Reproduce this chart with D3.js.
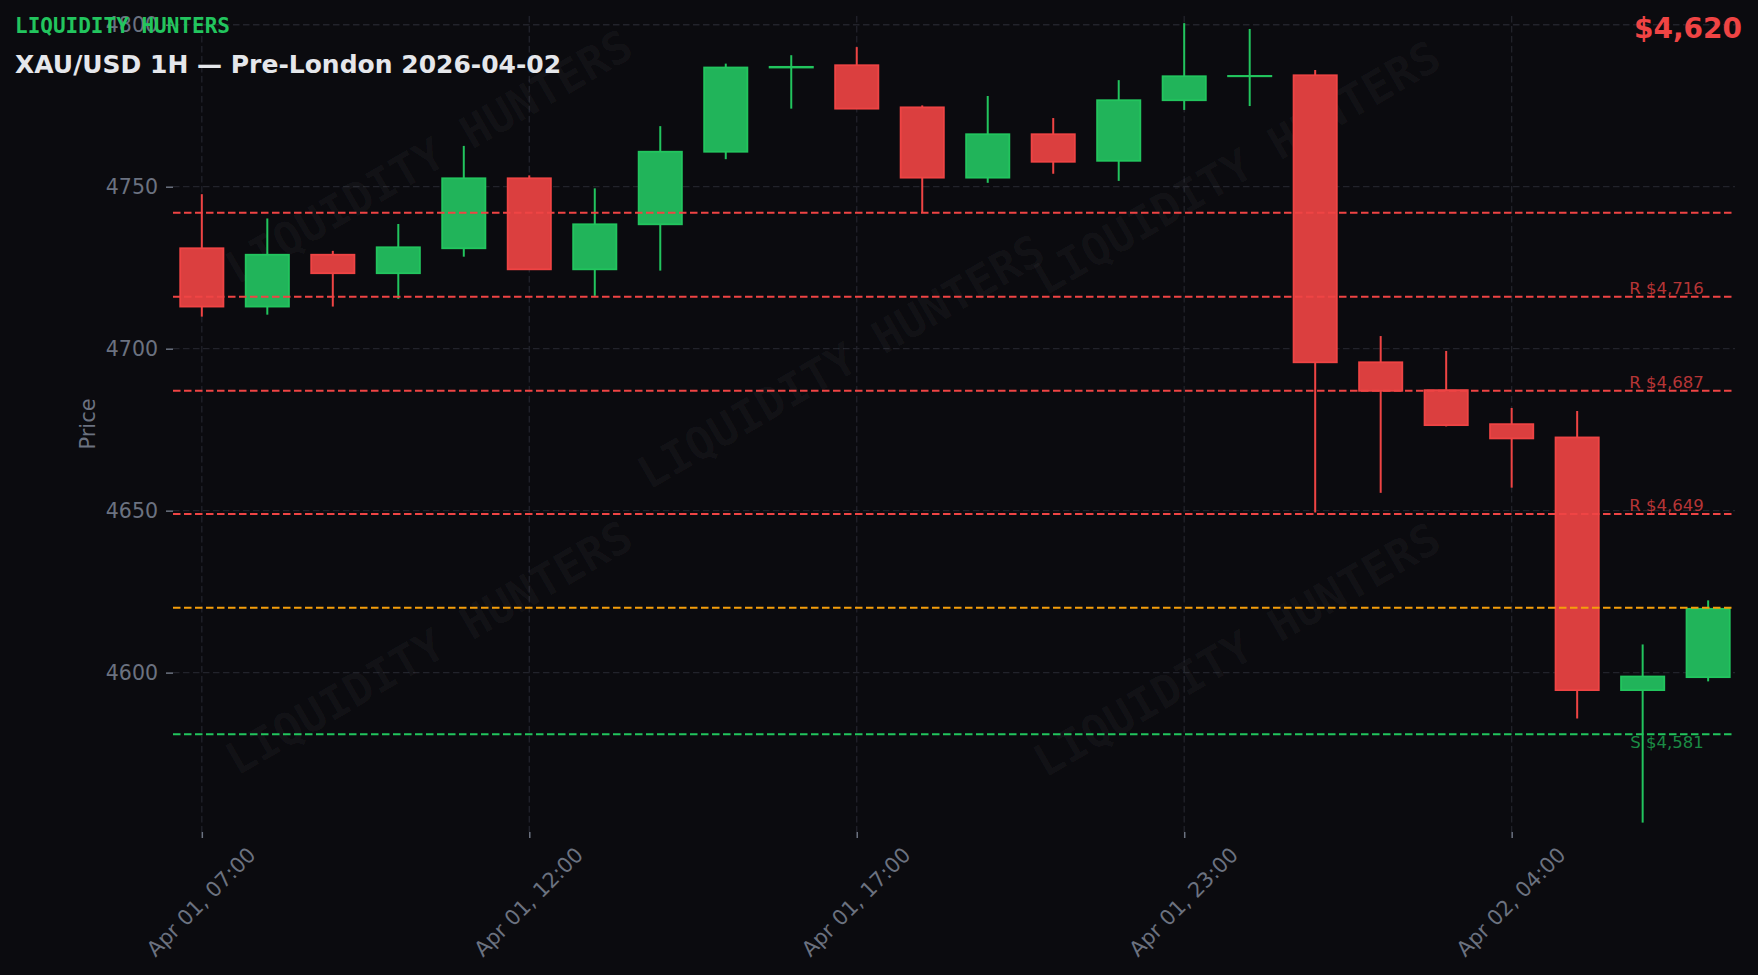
<!DOCTYPE html>
<html>
<head>
<meta charset="utf-8">
<script src="https://cdn.jsdelivr.net/npm/d3@7"></script>
<style>
  html, body { margin: 0; padding: 0; background: #0b0b0f; }
  svg { display: block; }
</style>
</head>
<body>
<svg id="chart" width="1758" height="975"></svg>
<script>
// ---------------- DATA ----------------
const times = [
  "2026-04-01 07:00","2026-04-01 08:00","2026-04-01 09:00","2026-04-01 10:00",
  "2026-04-01 11:00","2026-04-01 12:00","2026-04-01 13:00","2026-04-01 14:00",
  "2026-04-01 15:00","2026-04-01 16:00","2026-04-01 17:00","2026-04-01 18:00",
  "2026-04-01 19:00","2026-04-01 20:00","2026-04-01 22:00","2026-04-01 23:00",
  "2026-04-02 00:00","2026-04-02 01:00","2026-04-02 02:00","2026-04-02 03:00",
  "2026-04-02 04:00","2026-04-02 05:00","2026-04-02 06:00","2026-04-02 07:00"
];
const open  = [4731.0, 4713.0, 4729.0, 4723.3, 4731.0, 4752.6, 4724.5, 4738.4, 4760.8, 4786.8, 4787.5, 4774.5,
               4752.8, 4766.2, 4758.0, 4776.7, 4784.1, 4784.4, 4695.8, 4687.2, 4676.7, 4672.6, 4594.6, 4598.6];
const high  = [4747.7, 4740.2, 4730.2, 4738.5, 4762.6, 4753.5, 4749.5, 4768.7, 4788.0, 4790.6, 4793.1, 4775.1,
               4778.0, 4771.2, 4782.9, 4800.5, 4798.7, 4786.0, 4703.9, 4699.3, 4681.7, 4680.8, 4608.7, 4622.3];
const low   = [4709.9, 4710.5, 4713.0, 4715.4, 4728.4, 4724.3, 4716.3, 4724.1, 4758.5, 4774.1, 4774.1, 4742.0,
               4751.2, 4754.0, 4751.8, 4773.7, 4774.9, 4649.4, 4655.5, 4676.0, 4657.1, 4585.8, 4553.7, 4597.3];
const close = [4713.0, 4729.0, 4723.3, 4731.3, 4752.6, 4724.5, 4738.4, 4760.8, 4786.8, 4787.0, 4774.1, 4752.8,
               4766.2, 4757.7, 4776.7, 4784.1, 4784.2, 4695.8, 4687.0, 4676.4, 4672.3, 4594.6, 4598.8, 4619.7];

const resistance = [4716, 4687, 4649];   // labelled R levels
const sessionLevels = [4742];            // unlabelled red level
const support = [4581];
const currentPrice = 4620;

const yTicks = [4600, 4650, 4700, 4750, 4800];
const xTickIdx = [0, 5, 10, 15, 20];
const yDomain = [4550.8, 4802.7];
const xDomain = [-0.44, 23.41];

const brand = "LIQUIDITY HUNTERS";
const title = "XAU/USD 1H \u2014 Pre-London 2026-04-02";
const priceLabel = "$4,620";

// ---------------- LAYOUT ----------------
const W = 1758, H = 975;
const P = { left: 173, right: 1735, top: 16, bottom: 832 };
const RED = "#ef4444", GREEN = "#22c55e", ORANGE = "#f59e0b";
const GRID = "#22232b", TICK = "#6b7280";
const SANS = "'DejaVu Sans', sans-serif";
const MONO = "'DejaVu Sans Mono', monospace";

const svg = d3.select("#chart");
svg.append("rect").attr("width", W).attr("height", H).attr("fill", "#0b0b0f");

const x = d3.scaleLinear().domain(xDomain).range([P.left, P.right]);
const y = d3.scaleLinear().domain(yDomain).range([P.bottom, P.top]);
const step = x(1) - x(0);

const parse = d3.timeParse("%Y-%m-%d %H:%M");
const fmt = d3.timeFormat("%b %d, %H:%M");

// ---- grid ----
const grid = svg.append("g");
grid.selectAll("line.h").data(yTicks).join("line")
  .attr("x1", P.left).attr("x2", P.right)
  .attr("y1", d => y(d)).attr("y2", d => y(d))
  .attr("stroke", GRID).attr("stroke-width", 1.3).attr("stroke-dasharray", "6.5,3.5");
grid.selectAll("line.v").data(xTickIdx).join("line")
  .attr("x1", d => x(d)).attr("x2", d => x(d))
  .attr("y1", P.top).attr("y2", P.bottom)
  .attr("stroke", GRID).attr("stroke-width", 1.3).attr("stroke-dasharray", "6.5,3.5");

// ---- watermark ----
const wmCenters = [[429, 157], [841, 362], [1237, 168], [429, 648], [1237, 650]];
svg.append("g").selectAll("text").data(wmCenters).join("text")
  .attr("transform", d => `translate(${d[0]},${d[1]}) rotate(-30)`)
  .attr("text-anchor", "middle").attr("dominant-baseline", "central")
  .attr("font-family", MONO).attr("font-weight", "bold").attr("font-size", 45)
  .attr("fill", "#ffffff").attr("fill-opacity", 0.035)
  .text(brand);

// ---- axes ----
const yAxis = d3.axisLeft(y).tickValues(yTicks).tickSize(7).tickPadding(8).tickFormat(d3.format("d"));
const gy = svg.append("g").attr("transform", `translate(${P.left},0)`).call(yAxis);
gy.select(".domain").remove();
gy.selectAll(".tick line").attr("stroke", TICK).attr("stroke-width", 1.5);
gy.selectAll(".tick text").attr("fill", TICK).attr("font-family", SANS).attr("font-size", 20.5);

const xAxis = d3.axisBottom(x).tickValues(xTickIdx).tickSize(6).tickFormat(i => fmt(parse(times[i])));
const gx = svg.append("g").attr("transform", `translate(0,${P.bottom})`).call(xAxis);
gx.select(".domain").remove();
gx.selectAll(".tick line").attr("stroke", TICK).attr("stroke-width", 1.5);
gx.selectAll(".tick text")
  .attr("fill", TICK).attr("font-family", SANS).attr("font-size", 21)
  .attr("text-anchor", "middle").attr("dominant-baseline", "central")
  .attr("x", 0).attr("y", 0).attr("dy", null)
  .attr("transform", "translate(-1,70) rotate(-45)");

svg.append("text")
  .attr("transform", `translate(95,${(P.top + P.bottom) / 2}) rotate(-90)`)
  .attr("text-anchor", "middle")
  .attr("font-family", SANS).attr("font-size", 21).attr("fill", TICK)
  .text("Price");

// ---- candles ----
const idx = d3.range(open.length);
const bodyW = step * 0.66;
const colorOf = i => close[i] >= open[i] ? GREEN : RED;
const fillOf = i => close[i] >= open[i] ? "#21b45a" : "#db3f3f";

const cg = svg.append("g");
cg.selectAll("line.wick").data(idx).join("line")
  .attr("x1", i => x(i)).attr("x2", i => x(i))
  .attr("y1", i => y(high[i])).attr("y2", i => y(low[i]))
  .attr("stroke", colorOf).attr("stroke-width", 2);
cg.selectAll("rect.body").data(idx).join("rect")
  .attr("x", i => x(i) - bodyW / 2).attr("width", bodyW)
  .attr("y", i => y(Math.max(open[i], close[i])))
  .attr("height", i => Math.abs(y(open[i]) - y(close[i])))
  .attr("fill", fillOf).attr("stroke", colorOf).attr("stroke-width", 1.8);

// ---- levels ----
const lv = svg.append("g");
function hline(v, color) {
  lv.append("line").attr("x1", P.left).attr("x2", P.right)
    .attr("y1", y(v)).attr("y2", y(v))
    .attr("stroke", color).attr("stroke-width", 2).attr("stroke-dasharray", "7.5,3.5");
}
sessionLevels.forEach(v => hline(v, RED));
resistance.forEach(v => hline(v, RED));
support.forEach(v => hline(v, GREEN));
hline(currentPrice, ORANGE);

const labelX = P.left + 0.98 * (P.right - P.left);
const money = d3.format("$,.0f");
lv.selectAll("text.r").data(resistance).join("text")
  .attr("x", labelX).attr("y", d => y(d) - 3)
  .attr("text-anchor", "end")
  .attr("font-family", SANS).attr("font-size", 16.5)
  .attr("fill", RED).attr("fill-opacity", 0.75)
  .text(d => "R " + money(d));
lv.selectAll("text.s").data(support).join("text")
  .attr("x", labelX).attr("y", d => y(d) + 14)
  .attr("text-anchor", "end")
  .attr("font-family", SANS).attr("font-size", 16.5)
  .attr("fill", GREEN).attr("fill-opacity", 0.7)
  .text(d => "S " + money(d));

// ---- header texts ----
svg.append("text").attr("x", 15).attr("y", 33)
  .attr("font-family", MONO).attr("font-weight", "bold").attr("font-size", 21)
  .attr("fill", GREEN).text(brand);
svg.append("text").attr("x", 15).attr("y", 73)
  .attr("font-family", SANS).attr("font-weight", "bold").attr("font-size", 25)
  .attr("fill", "#e5e7eb").text(title);
svg.append("text").attr("x", 1742).attr("y", 38)
  .attr("text-anchor", "end")
  .attr("font-family", SANS).attr("font-weight", "bold").attr("font-size", 28)
  .attr("fill", RED).text(priceLabel);
</script>
</body>
</html>
